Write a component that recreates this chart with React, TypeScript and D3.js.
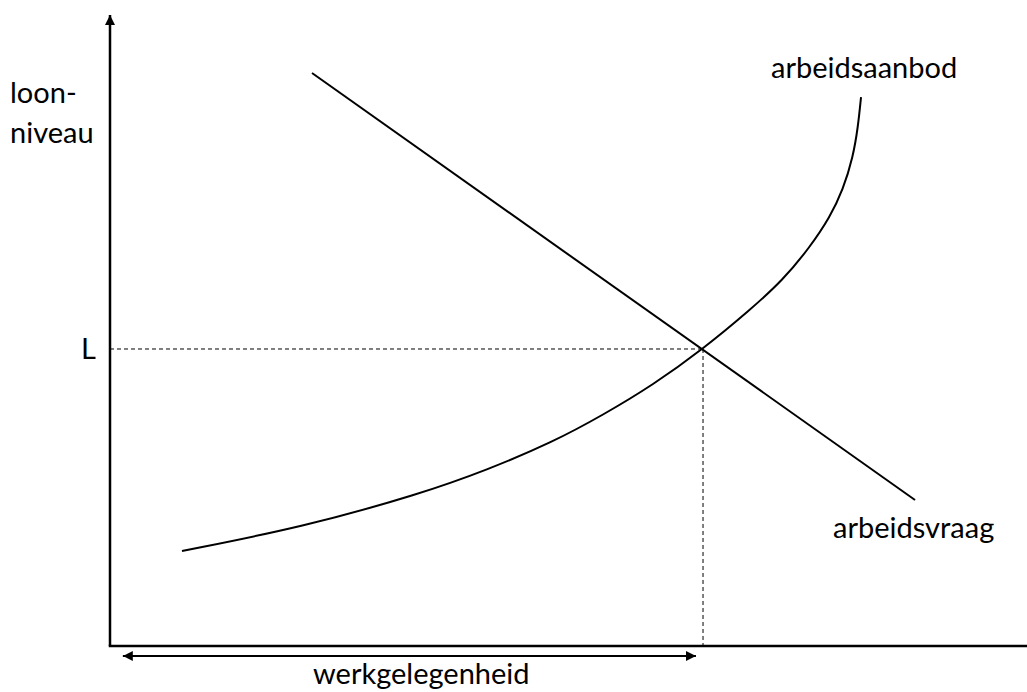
import React, { useEffect, useRef } from 'react';
import * as d3 from 'd3';

// Chart size
const WIDTH = 1027;
const HEIGHT = 692;

// supply curve (arbeidsaanbod): [werkgelegenheid, loonniveau], both 0-100
const supplyX = [7.85, 21.05, 33.81, 41.11, 48.31, 53.76, 59.21, 64.67, 69.79, 73.39, 76.34, 78.52, 79.93, 81.03, 81.57, 81.9];
const supplyY = [15.06, 18.86, 24.09, 27.89, 32.33, 36.61, 41.36, 47.07, 53.25, 58.0, 63.23, 67.99, 72.27, 77.5, 82.25, 87.0];

// demand line (arbeidsvraag)
const demandX = [22.03, 87.79];
const demandY = [90.8, 23.14];

// equilibrium
const eqX = 64.67;
const eqY = 47.07;

// range of the werkgelegenheid arrow
const employmentArrow = [1.4, 63.9];

const labels = {
  yAxis: ['loon-', 'niveau'],
  wage: 'L',
  supply: 'arbeidsaanbod',
  demand: 'arbeidsvraag',
  employment: 'werkgelegenheid',
};

const FONT = 'Lato, "Open Sans", sans-serif';

export default function App() {
  const ref = useRef<SVGSVGElement>(null);

  useEffect(() => {
    const svg = d3.select(ref.current);
    svg.selectAll('*').remove();

    const xScale = d3.scaleLinear().domain([0, 100]).range([110, 1027]);
    const yScale = d3.scaleLinear().domain([0, 100]).range([646, 15]);

    const defs = svg.append('defs');
    defs.append('marker')
      .attr('id', 'arrow')
      .attr('viewBox', '0 0 10 10')
      .attr('refX', 10)
      .attr('refY', 5)
      .attr('markerWidth', 10)
      .attr('markerHeight', 10)
      .attr('markerUnits', 'userSpaceOnUse')
      .attr('orient', 'auto-start-reverse')
      .append('path')
      .attr('d', 'M0,0 L10,5 L0,10 Z')
      .attr('fill', '#000');

    // axes
    svg.append('line')
      .attr('x1', xScale(0)).attr('y1', yScale(0))
      .attr('x2', xScale(0)).attr('y2', yScale(100))
      .attr('stroke', '#000').attr('stroke-width', 2.5)
      .attr('marker-end', 'url(#arrow)');
    svg.append('line')
      .attr('x1', xScale(0) - 1.25).attr('y1', yScale(0))
      .attr('x2', xScale(100)).attr('y2', yScale(0))
      .attr('stroke', '#000').attr('stroke-width', 2.5);

    // dashed guides to the equilibrium
    svg.append('line')
      .attr('x1', xScale(0)).attr('y1', yScale(eqY))
      .attr('x2', xScale(eqX)).attr('y2', yScale(eqY))
      .attr('stroke', '#000').attr('stroke-width', 1)
      .attr('stroke-dasharray', '4,3');
    svg.append('line')
      .attr('x1', xScale(eqX)).attr('y1', yScale(eqY))
      .attr('x2', xScale(eqX)).attr('y2', yScale(0))
      .attr('stroke', '#000').attr('stroke-width', 1)
      .attr('stroke-dasharray', '4,3');

    // demand
    const line = d3.line<[number, number]>()
      .x((d) => xScale(d[0]))
      .y((d) => yScale(d[1]));
    svg.append('path')
      .attr('d', line(demandX.map((x, i) => [x, demandY[i]] as [number, number])))
      .attr('fill', 'none').attr('stroke', '#000').attr('stroke-width', 2);

    // supply, smoothed through the read-off points
    const curve = d3.line<[number, number]>()
      .x((d) => xScale(d[0]))
      .y((d) => yScale(d[1]))
      .curve(d3.curveBasis);
    svg.append('path')
      .attr('d', curve(supplyX.map((x, i) => [x, supplyY[i]] as [number, number])))
      .attr('fill', 'none').attr('stroke', '#000').attr('stroke-width', 2);

    // werkgelegenheid arrow
    const arrowY = yScale(0) + 10;
    svg.append('line')
      .attr('x1', xScale(employmentArrow[0])).attr('y1', arrowY)
      .attr('x2', xScale(employmentArrow[1])).attr('y2', arrowY)
      .attr('stroke', '#000').attr('stroke-width', 2)
      .attr('marker-start', 'url(#arrow)')
      .attr('marker-end', 'url(#arrow)');

    // texts
    const text = (x: number, y: number, s: string) =>
      svg.append('text')
        .attr('x', x).attr('y', y)
        .attr('font-family', FONT)
        .attr('font-size', 29)
        .attr('fill', '#000')
        .text(s);

    text(10, 103, labels.yAxis[0]);
    text(10, 143, labels.yAxis[1]);
    text(81, 359, labels.wage);
    text(771, 78, labels.supply);
    text(833, 538, labels.demand);
    text(313, 684, labels.employment);
  }, []);

  return (
    <svg
      ref={ref}
      width={WIDTH}
      height={HEIGHT}
      style={{ position: 'absolute', left: 0, top: 0, display: 'block', background: '#fff' }}
    />
  );
}
